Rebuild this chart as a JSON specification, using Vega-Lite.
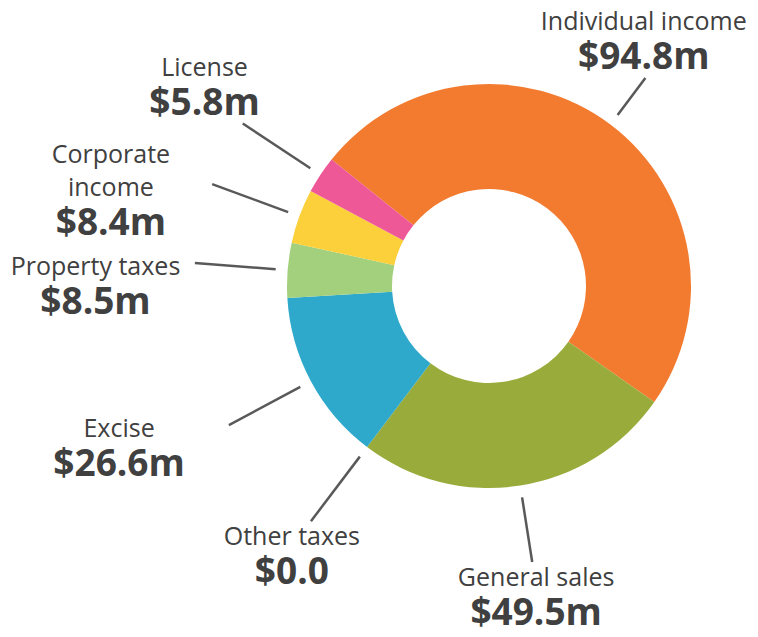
{
  "$schema": "https://vega.github.io/schema/vega-lite/v6.json",
  "width": 538,
  "height": 572,
  "autosize": "none",
  "padding": {"left": 220, "top": 0, "right": 0, "bottom": 65},
  "background": "white",
  "config": {"view": {"stroke": null}},
  "data": {
    "values": [
      {"idx": 1, "name": "Individual income", "value": 94.8, "amount": "$94.8m"},
      {"idx": 2, "name": "General sales", "value": 49.5, "amount": "$49.5m"},
      {"idx": 3, "name": "Other taxes", "value": 0, "amount": "$0.0"},
      {"idx": 4, "name": "Excise", "value": 26.6, "amount": "$26.6m"},
      {"idx": 5, "name": "Property taxes", "value": 8.5, "amount": "$8.5m"},
      {"idx": 6, "name": "Corporate\nincome", "value": 8.4, "amount": "$8.4m"},
      {"idx": 7, "name": "License", "value": 5.8, "amount": "$5.8m"}
    ]
  },
  "layer": [
    {
      "mark": {"type": "arc", "outerRadius": 202, "innerRadius": 97},
      "encoding": {
        "theta": {"field": "value", "type": "quantitative", "stack": true, "scale": {"range": [-0.8936, 5.3896]}},
        "order": {"field": "idx", "type": "quantitative"},
        "color": {
          "field": "name",
          "type": "nominal",
          "scale": {
            "domain": ["Individual income", "General sales", "Other taxes", "Excise", "Property taxes", "Corporate\nincome", "License"],
            "range": ["#F37B30", "#99AC3B", "#7F7F7F", "#2EA9CB", "#A2D07D", "#FBD03A", "#EE5897"]
          },
          "legend": null
        }
      }
    },
    {
      "transform": [
        {"joinaggregate": [{"op": "sum", "field": "value", "as": "total"}]},
        {"window": [{"op": "sum", "field": "value", "as": "cum"}], "sort": [{"field": "idx"}], "frame": [null, 0]},
        {"calculate": "(-51.2 + 360*(datum.cum - datum.value/2)/datum.total)*PI/180", "as": "ang"},
        {"calculate": "sin(datum.ang)", "as": "s"},
        {"calculate": "cos(datum.ang)", "as": "c"},
        {"calculate": "abs(datum.s) > 0.86", "as": "side"},
        {"calculate": "length(split(datum.name,'\\n'))", "as": "n"},
        {"calculate": "max(length(split(datum.name,'\\n')[0])*12.5, length(datum.amount)*21.6)/2", "as": "hw"},
        {"calculate": "(33*datum.n + 27)/2", "as": "hh"},
        {"calculate": "min(295, datum.c > 0 ? (268 - 2*datum.hh)/datum.c : (336 - 2*datum.hh)/(-datum.c))", "as": "r2"},
        {"calculate": "214*datum.s", "as": "bx"},
        {"calculate": "-214*datum.c", "as": "by"},
        {"calculate": "datum.r2*datum.s", "as": "ex"},
        {"calculate": "-datum.r2*datum.c", "as": "ey"},
        {"calculate": "(datum.hh+6)/abs(datum.c)", "as": "t"},
        {"calculate": "clamp(datum.side ? datum.ex + (datum.s > 0 ? 1 : -1)*(datum.hw + 45) : datum.ex + 0.7*datum.t*datum.s, -481 + datum.hw, 261 - datum.hw)", "as": "cx"},
        {"calculate": "datum.side ? datum.ey + 17 : clamp(datum.ey - datum.t*datum.c, -274 + datum.hh, 342 - datum.hh) - datum.hh + 23 + 33*(datum.n-1)", "as": "py"},
        {"calculate": "datum.py - 5 - 33*(datum.n-1)", "as": "ny"},
        {"calculate": "datum.py + 34", "as": "ay"}
      ],
      "layer": [
        {
          "mark": {"type": "rule", "color": "#595959", "strokeWidth": 2.5},
          "encoding": {
            "x": {"field": "bx", "type": "quantitative", "scale": {"domain": [-269, 269], "nice": false, "zero": false}, "axis": null},
            "y": {"field": "by", "type": "quantitative", "scale": {"domain": [-286, 286], "reverse": true, "nice": false, "zero": false}, "axis": null},
            "x2": {"field": "ex"},
            "y2": {"field": "ey"}
          }
        },
        {
          "mark": {"type": "text", "font": "Open Sans", "fontSize": 25, "color": "#404040", "align": "center", "baseline": "alphabetic", "lineBreak": "\n", "lineHeight": 33},
          "encoding": {
            "x": {"field": "cx", "type": "quantitative", "scale": {"domain": [-269, 269], "nice": false, "zero": false}, "axis": null},
            "y": {"field": "ny", "type": "quantitative", "scale": {"domain": [-286, 286], "reverse": true, "nice": false, "zero": false}, "axis": null},
            "text": {"field": "name"}
          }
        },
        {
          "mark": {"type": "text", "font": "Open Sans", "fontSize": 37, "fontWeight": "bold", "color": "#404040", "align": "center", "baseline": "alphabetic"},
          "encoding": {
            "x": {"field": "cx", "type": "quantitative", "scale": {"domain": [-269, 269], "nice": false, "zero": false}, "axis": null},
            "y": {"field": "ay", "type": "quantitative", "scale": {"domain": [-286, 286], "reverse": true, "nice": false, "zero": false}, "axis": null},
            "text": {"field": "amount"}
          }
        }
      ]
    }
  ]
}
